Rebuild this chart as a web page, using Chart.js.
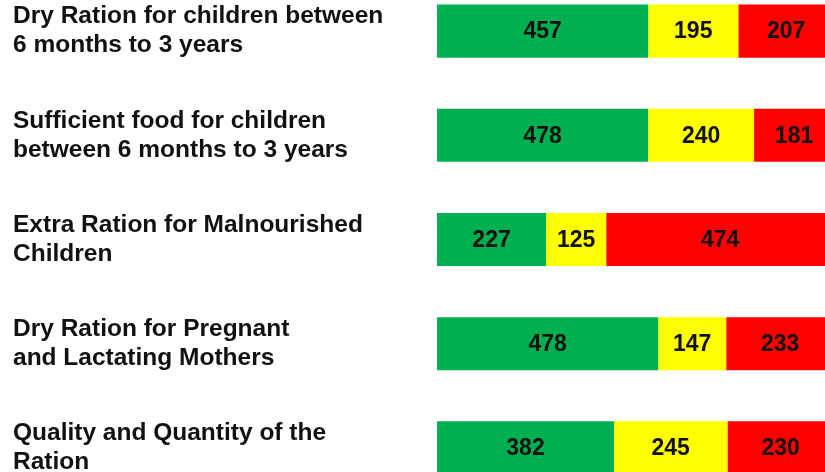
<!DOCTYPE html>
<html>
<head>
<meta charset="utf-8">
<script src="https://cdn.jsdelivr.net/npm/chart.js@4/dist/chart.umd.min.js"></script>
<style>
  html, body { margin: 0; padding: 0; background: #fff; }
  #wrap { position: relative; width: 825px; height: 472px; overflow: hidden; background: #fff; }
  #chart { position: absolute; left: 0; top: -21px; }
</style>
</head>
<body>
<div id="wrap"><canvas id="chart" width="840" height="521"></canvas></div>
<script>
// categories (two-line labels as drawn)
const categories = [
    ['Dry Ration for children between', '6 months to 3 years'],
    ['Sufficient food for children', 'between 6 months to 3 years'],
    ['Extra Ration for Malnourished', 'Children'],
    ['Dry Ration for Pregnant', 'and Lactating Mothers'],
    ['Quality and Quantity of the', 'Ration']
];

// counts per segment
const greenCounts = [457, 478, 227, 478, 382];
const yellowCounts = [195, 240, 125, 147, 245];
const redCounts = [207, 181, 474, 233, 230];

const totals = greenCounts.map((g, i) => g + yellowCounts[i] + redCounts[i]);
const toPct = arr => arr.map((v, i) => v / totals[i] * 100);

/* draw the raw count in the middle of each segment */
const countLabels = {
    id: 'countLabels',
    afterDatasetsDraw(chart) {
        const ctx = chart.ctx;
        ctx.save();
        ctx.font = 'bold 23px "Liberation Sans", Arial, sans-serif';
        ctx.fillStyle = '#111';
        ctx.textAlign = 'center';
        ctx.textBaseline = 'middle';
        chart.data.datasets.forEach((ds, di) => {
            chart.getDatasetMeta(di).data.forEach((bar, i) => {
                const p = bar.getProps(['x', 'y', 'base'], true);
                ctx.fillText(String(ds.counts[i]), (p.x + p.base) / 2, p.y + 1);
            });
        });
        ctx.restore();
    }
};

new Chart(document.getElementById('chart'), {
    type: 'bar',
    data: {
        labels: categories,
        datasets: [
            { label: 'Green', data: toPct(greenCounts), counts: greenCounts, backgroundColor: '#00b050' },
            { label: 'Yellow', data: toPct(yellowCounts), counts: yellowCounts, backgroundColor: '#ffff00' },
            { label: 'Red', data: toPct(redCounts), counts: redCounts, backgroundColor: '#ff0000' }
        ]
    },
    options: {
        indexAxis: 'y',
        responsive: false,
        animation: false,
        layout: { padding: { left: 13, right: 6, top: 0, bottom: 0 } },
        datasets: { bar: { categoryPercentage: 1, barPercentage: 0.51, borderWidth: 0 } },
        plugins: { legend: { display: false }, tooltip: { enabled: false } },
        scales: {
            x: { stacked: true, min: 0, max: 100, display: false },
            y: {
                stacked: true,
                border: { display: false },
                grid: { display: false, drawTicks: false },
                afterFit: s => { s.width = 424; s.paddingTop = 0; s.paddingBottom = 0; },
                ticks: {
                    crossAlign: 'far',
                    color: '#111',
                    font: { family: '"Liberation Sans", Arial, sans-serif', size: 24.5, weight: 'bold', lineHeight: '29px' }
                }
            }
        }
    },
    plugins: [countLabels]
});
</script>
</body>
</html>
